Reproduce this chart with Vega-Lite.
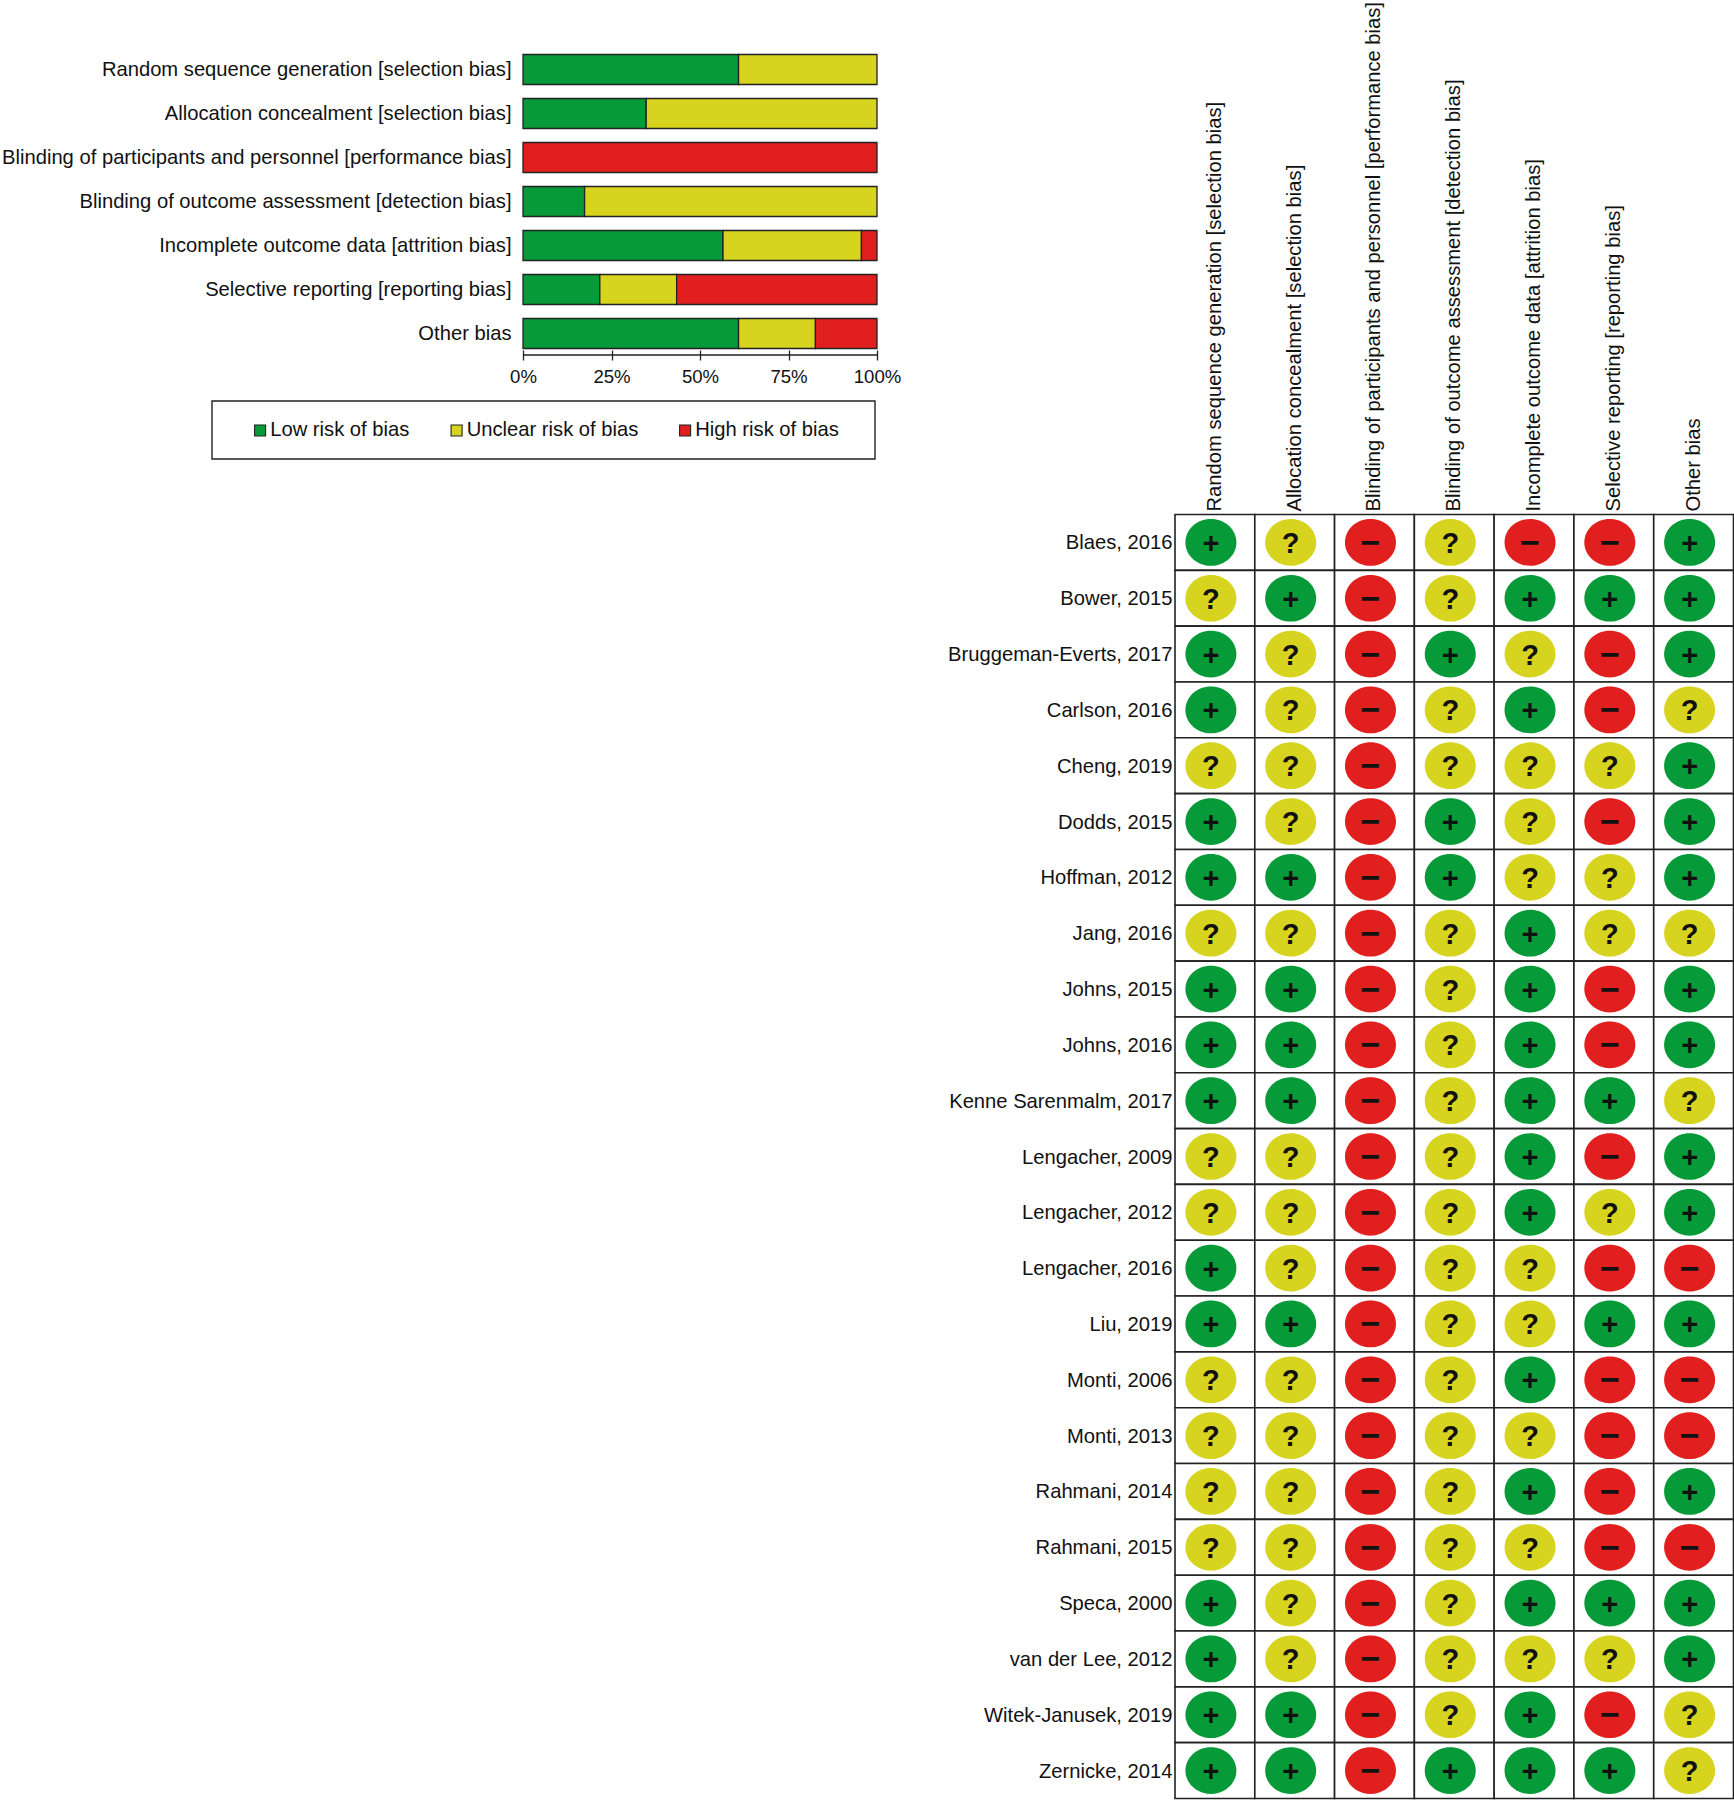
{"$schema":"https://vega.github.io/schema/vega-lite/v6.json","width":1734,"height":1800,"padding":0,"autosize":{"type":"none"},"background":"white","config":{"view":{"stroke":null},"text":{"font":"Liberation Sans"},"axis":{"labelFont":"Liberation Sans","labelColor":"#111","labelFontSize":20.2,"title":null,"labelLimit":0,"labelOverlap":false,"labelBound":false,"labelFlush":false,"grid":false},"legend":{"labelFont":"Liberation Sans","labelFontSize":20.2,"labelColor":"#111","labelLimit":400}},"datasets":{"summary":[
{"domain":"Random sequence generation [selection bias]","judgement":"Low risk of bias","percent":60.9,"rank":1},{"domain":"Random sequence generation [selection bias]","judgement":"Unclear risk of bias","percent":39.1,"rank":2},
{"domain":"Allocation concealment [selection bias]","judgement":"Low risk of bias","percent":34.8,"rank":1},{"domain":"Allocation concealment [selection bias]","judgement":"Unclear risk of bias","percent":65.2,"rank":2},
{"domain":"Blinding of participants and personnel [performance bias]","judgement":"High risk of bias","percent":100,"rank":3},
{"domain":"Blinding of outcome assessment [detection bias]","judgement":"Low risk of bias","percent":17.4,"rank":1},{"domain":"Blinding of outcome assessment [detection bias]","judgement":"Unclear risk of bias","percent":82.6,"rank":2},
{"domain":"Incomplete outcome data [attrition bias]","judgement":"Low risk of bias","percent":56.5,"rank":1},{"domain":"Incomplete outcome data [attrition bias]","judgement":"Unclear risk of bias","percent":39.1,"rank":2},{"domain":"Incomplete outcome data [attrition bias]","judgement":"High risk of bias","percent":4.4,"rank":3},
{"domain":"Selective reporting [reporting bias]","judgement":"Low risk of bias","percent":21.7,"rank":1},{"domain":"Selective reporting [reporting bias]","judgement":"Unclear risk of bias","percent":21.7,"rank":2},{"domain":"Selective reporting [reporting bias]","judgement":"High risk of bias","percent":56.6,"rank":3},
{"domain":"Other bias","judgement":"Low risk of bias","percent":60.9,"rank":1},{"domain":"Other bias","judgement":"Unclear risk of bias","percent":21.7,"rank":2},{"domain":"Other bias","judgement":"High risk of bias","percent":17.4,"rank":3}
],"grid":[
{"s":"Blaes, 2016","d":"R","j":"+"},{"s":"Blaes, 2016","d":"A","j":"?"},{"s":"Blaes, 2016","d":"P","j":"−"},{"s":"Blaes, 2016","d":"D","j":"?"},{"s":"Blaes, 2016","d":"I","j":"−"},{"s":"Blaes, 2016","d":"S","j":"−"},{"s":"Blaes, 2016","d":"O","j":"+"},
{"s":"Bower, 2015","d":"R","j":"?"},{"s":"Bower, 2015","d":"A","j":"+"},{"s":"Bower, 2015","d":"P","j":"−"},{"s":"Bower, 2015","d":"D","j":"?"},{"s":"Bower, 2015","d":"I","j":"+"},{"s":"Bower, 2015","d":"S","j":"+"},{"s":"Bower, 2015","d":"O","j":"+"},
{"s":"Bruggeman-Everts, 2017","d":"R","j":"+"},{"s":"Bruggeman-Everts, 2017","d":"A","j":"?"},{"s":"Bruggeman-Everts, 2017","d":"P","j":"−"},{"s":"Bruggeman-Everts, 2017","d":"D","j":"+"},{"s":"Bruggeman-Everts, 2017","d":"I","j":"?"},{"s":"Bruggeman-Everts, 2017","d":"S","j":"−"},{"s":"Bruggeman-Everts, 2017","d":"O","j":"+"},
{"s":"Carlson, 2016","d":"R","j":"+"},{"s":"Carlson, 2016","d":"A","j":"?"},{"s":"Carlson, 2016","d":"P","j":"−"},{"s":"Carlson, 2016","d":"D","j":"?"},{"s":"Carlson, 2016","d":"I","j":"+"},{"s":"Carlson, 2016","d":"S","j":"−"},{"s":"Carlson, 2016","d":"O","j":"?"},
{"s":"Cheng, 2019","d":"R","j":"?"},{"s":"Cheng, 2019","d":"A","j":"?"},{"s":"Cheng, 2019","d":"P","j":"−"},{"s":"Cheng, 2019","d":"D","j":"?"},{"s":"Cheng, 2019","d":"I","j":"?"},{"s":"Cheng, 2019","d":"S","j":"?"},{"s":"Cheng, 2019","d":"O","j":"+"},
{"s":"Dodds, 2015","d":"R","j":"+"},{"s":"Dodds, 2015","d":"A","j":"?"},{"s":"Dodds, 2015","d":"P","j":"−"},{"s":"Dodds, 2015","d":"D","j":"+"},{"s":"Dodds, 2015","d":"I","j":"?"},{"s":"Dodds, 2015","d":"S","j":"−"},{"s":"Dodds, 2015","d":"O","j":"+"},
{"s":"Hoffman, 2012","d":"R","j":"+"},{"s":"Hoffman, 2012","d":"A","j":"+"},{"s":"Hoffman, 2012","d":"P","j":"−"},{"s":"Hoffman, 2012","d":"D","j":"+"},{"s":"Hoffman, 2012","d":"I","j":"?"},{"s":"Hoffman, 2012","d":"S","j":"?"},{"s":"Hoffman, 2012","d":"O","j":"+"},
{"s":"Jang, 2016","d":"R","j":"?"},{"s":"Jang, 2016","d":"A","j":"?"},{"s":"Jang, 2016","d":"P","j":"−"},{"s":"Jang, 2016","d":"D","j":"?"},{"s":"Jang, 2016","d":"I","j":"+"},{"s":"Jang, 2016","d":"S","j":"?"},{"s":"Jang, 2016","d":"O","j":"?"},
{"s":"Johns, 2015","d":"R","j":"+"},{"s":"Johns, 2015","d":"A","j":"+"},{"s":"Johns, 2015","d":"P","j":"−"},{"s":"Johns, 2015","d":"D","j":"?"},{"s":"Johns, 2015","d":"I","j":"+"},{"s":"Johns, 2015","d":"S","j":"−"},{"s":"Johns, 2015","d":"O","j":"+"},
{"s":"Johns, 2016","d":"R","j":"+"},{"s":"Johns, 2016","d":"A","j":"+"},{"s":"Johns, 2016","d":"P","j":"−"},{"s":"Johns, 2016","d":"D","j":"?"},{"s":"Johns, 2016","d":"I","j":"+"},{"s":"Johns, 2016","d":"S","j":"−"},{"s":"Johns, 2016","d":"O","j":"+"},
{"s":"Kenne Sarenmalm, 2017","d":"R","j":"+"},{"s":"Kenne Sarenmalm, 2017","d":"A","j":"+"},{"s":"Kenne Sarenmalm, 2017","d":"P","j":"−"},{"s":"Kenne Sarenmalm, 2017","d":"D","j":"?"},{"s":"Kenne Sarenmalm, 2017","d":"I","j":"+"},{"s":"Kenne Sarenmalm, 2017","d":"S","j":"+"},{"s":"Kenne Sarenmalm, 2017","d":"O","j":"?"},
{"s":"Lengacher, 2009","d":"R","j":"?"},{"s":"Lengacher, 2009","d":"A","j":"?"},{"s":"Lengacher, 2009","d":"P","j":"−"},{"s":"Lengacher, 2009","d":"D","j":"?"},{"s":"Lengacher, 2009","d":"I","j":"+"},{"s":"Lengacher, 2009","d":"S","j":"−"},{"s":"Lengacher, 2009","d":"O","j":"+"},
{"s":"Lengacher, 2012","d":"R","j":"?"},{"s":"Lengacher, 2012","d":"A","j":"?"},{"s":"Lengacher, 2012","d":"P","j":"−"},{"s":"Lengacher, 2012","d":"D","j":"?"},{"s":"Lengacher, 2012","d":"I","j":"+"},{"s":"Lengacher, 2012","d":"S","j":"?"},{"s":"Lengacher, 2012","d":"O","j":"+"},
{"s":"Lengacher, 2016","d":"R","j":"+"},{"s":"Lengacher, 2016","d":"A","j":"?"},{"s":"Lengacher, 2016","d":"P","j":"−"},{"s":"Lengacher, 2016","d":"D","j":"?"},{"s":"Lengacher, 2016","d":"I","j":"?"},{"s":"Lengacher, 2016","d":"S","j":"−"},{"s":"Lengacher, 2016","d":"O","j":"−"},
{"s":"Liu, 2019","d":"R","j":"+"},{"s":"Liu, 2019","d":"A","j":"+"},{"s":"Liu, 2019","d":"P","j":"−"},{"s":"Liu, 2019","d":"D","j":"?"},{"s":"Liu, 2019","d":"I","j":"?"},{"s":"Liu, 2019","d":"S","j":"+"},{"s":"Liu, 2019","d":"O","j":"+"},
{"s":"Monti, 2006","d":"R","j":"?"},{"s":"Monti, 2006","d":"A","j":"?"},{"s":"Monti, 2006","d":"P","j":"−"},{"s":"Monti, 2006","d":"D","j":"?"},{"s":"Monti, 2006","d":"I","j":"+"},{"s":"Monti, 2006","d":"S","j":"−"},{"s":"Monti, 2006","d":"O","j":"−"},
{"s":"Monti, 2013","d":"R","j":"?"},{"s":"Monti, 2013","d":"A","j":"?"},{"s":"Monti, 2013","d":"P","j":"−"},{"s":"Monti, 2013","d":"D","j":"?"},{"s":"Monti, 2013","d":"I","j":"?"},{"s":"Monti, 2013","d":"S","j":"−"},{"s":"Monti, 2013","d":"O","j":"−"},
{"s":"Rahmani, 2014","d":"R","j":"?"},{"s":"Rahmani, 2014","d":"A","j":"?"},{"s":"Rahmani, 2014","d":"P","j":"−"},{"s":"Rahmani, 2014","d":"D","j":"?"},{"s":"Rahmani, 2014","d":"I","j":"+"},{"s":"Rahmani, 2014","d":"S","j":"−"},{"s":"Rahmani, 2014","d":"O","j":"+"},
{"s":"Rahmani, 2015","d":"R","j":"?"},{"s":"Rahmani, 2015","d":"A","j":"?"},{"s":"Rahmani, 2015","d":"P","j":"−"},{"s":"Rahmani, 2015","d":"D","j":"?"},{"s":"Rahmani, 2015","d":"I","j":"?"},{"s":"Rahmani, 2015","d":"S","j":"−"},{"s":"Rahmani, 2015","d":"O","j":"−"},
{"s":"Speca, 2000","d":"R","j":"+"},{"s":"Speca, 2000","d":"A","j":"?"},{"s":"Speca, 2000","d":"P","j":"−"},{"s":"Speca, 2000","d":"D","j":"?"},{"s":"Speca, 2000","d":"I","j":"+"},{"s":"Speca, 2000","d":"S","j":"+"},{"s":"Speca, 2000","d":"O","j":"+"},
{"s":"van der Lee, 2012","d":"R","j":"+"},{"s":"van der Lee, 2012","d":"A","j":"?"},{"s":"van der Lee, 2012","d":"P","j":"−"},{"s":"van der Lee, 2012","d":"D","j":"?"},{"s":"van der Lee, 2012","d":"I","j":"?"},{"s":"van der Lee, 2012","d":"S","j":"?"},{"s":"van der Lee, 2012","d":"O","j":"+"},
{"s":"Witek-Janusek, 2019","d":"R","j":"+"},{"s":"Witek-Janusek, 2019","d":"A","j":"+"},{"s":"Witek-Janusek, 2019","d":"P","j":"−"},{"s":"Witek-Janusek, 2019","d":"D","j":"?"},{"s":"Witek-Janusek, 2019","d":"I","j":"+"},{"s":"Witek-Janusek, 2019","d":"S","j":"−"},{"s":"Witek-Janusek, 2019","d":"O","j":"?"},
{"s":"Zernicke, 2014","d":"R","j":"+"},{"s":"Zernicke, 2014","d":"A","j":"+"},{"s":"Zernicke, 2014","d":"P","j":"−"},{"s":"Zernicke, 2014","d":"D","j":"+"},{"s":"Zernicke, 2014","d":"I","j":"+"},{"s":"Zernicke, 2014","d":"S","j":"+"},{"s":"Zernicke, 2014","d":"O","j":"?"}
]},
"layer":[
{"data":{"values":[{"box":"legend"}]},"mark":{"type":"rect","fill":"white","stroke":"#222","strokeWidth":1.4},"encoding":{"x":{"field":"box","type":"nominal","axis":null,"scale":{"range":[212,875],"paddingInner":0,"paddingOuter":0}},"y":{"field":"box","type":"nominal","axis":null,"scale":{"range":[401,459],"paddingInner":0,"paddingOuter":0}}}},
{"data":{"name":"summary"},"mark":{"type":"bar","stroke":"#222","strokeWidth":1.3},"encoding":{
"y":{"field":"domain","type":"nominal","sort":null,"scale":{"range":[54.5,348.5],"paddingInner":0.318,"paddingOuter":0},"axis":{"orient":"left","offset":-523,"labelPadding":12,"ticks":false,"domain":false,"labelOffset":0.5}},
"x":{"field":"percent","type":"quantitative","stack":"zero","scale":{"domain":[0,100],"range":[523,877],"nice":false},"axis":{"orient":"bottom","offset":-1450,"values":[0,25,50,75,100],"labelExpr":"datum.value + '%'","labelFontSize":18.6,"domain":false,"tickSize":10,"tickColor":"#222","tickWidth":1.3,"labelPadding":7}},
"order":{"field":"rank","type":"ordinal"},
"color":{"field":"judgement","type":"nominal","scale":{"domain":["Low risk of bias","Unclear risk of bias","High risk of bias"],"range":["#079a38","#d7d420","#e21f1f"]},"legend":{"orient":"none","legendX":250,"legendY":420,"title":null,"direction":"horizontal","columns":3,"symbolType":"square","symbolSize":121,"symbolStrokeColor":"#222","symbolStrokeWidth":1.1,"symbolOpacity":1,"labelOffset":0,"columnPadding":36.5,"padding":0}}
}},
{"data":{"values":[{"line":"axis","from":0,"to":100}]},"mark":{"type":"rule","stroke":"#222","strokeWidth":1.3},"encoding":{"x":{"field":"from","type":"quantitative","axis":null,"scale":{"domain":[0,100],"range":[523,877],"nice":false}},"x2":{"field":"to"},"y":{"field":"line","type":"nominal","axis":null,"scale":{"range":[355,355]}}}},
{"data":{"name":"grid"},"encoding":{
"x":{"field":"d","type":"nominal","sort":null,"scale":{"range":[1175,1733.5],"paddingInner":0,"paddingOuter":0},"axis":{"orient":"top","offset":-514,"labelAngle":270,"labelAlign":"left","labelBaseline":"middle","labelPadding":3,"ticks":false,"domain":false,"labelExpr":"{'R':'Random sequence generation [selection bias]','A':'Allocation concealment [selection bias]','P':'Blinding of participants and personnel [performance bias]','D':'Blinding of outcome assessment [detection bias]','I':'Incomplete outcome data [attrition bias]','S':'Selective reporting [reporting bias]','O':'Other bias'}[datum.value]"}},
"y":{"field":"s","type":"nominal","sort":null,"scale":{"range":[514.5,1798.5],"paddingInner":0,"paddingOuter":0},"axis":{"orient":"left","offset":-1175,"labelPadding":3,"ticks":false,"domain":false,"labelOffset":1}}
},"layer":[
{"mark":{"type":"rect","fill":"white","stroke":"#222","strokeWidth":1.6}},
{"mark":{"type":"point","filled":true,"opacity":1,"size":2601,"xOffset":-4,"shape":"M-1,0A1,0.916,0,1,1,1,0A1,0.916,0,1,1,-1,0Z"},"encoding":{"color":{"field":"j","type":"nominal","legend":null,"scale":{"domain":["+","?","−"],"range":["#079a38","#d7d420","#e21f1f"]}}}},
{"mark":{"type":"text","font":"Liberation Sans","fontWeight":"bold","dy":1.5,"dx":-4,"color":"#111"},"encoding":{"text":{"field":"j","type":"nominal"},"size":{"field":"j","type":"nominal","legend":null,"scale":{"type":"ordinal","domain":["+","?","−"],"range":[29,29,34]}}}}
]}
],
"resolve":{"scale":{"x":"independent","y":"independent","color":"independent"},"axis":{"x":"independent","y":"independent"},"legend":{"color":"independent"}}}
